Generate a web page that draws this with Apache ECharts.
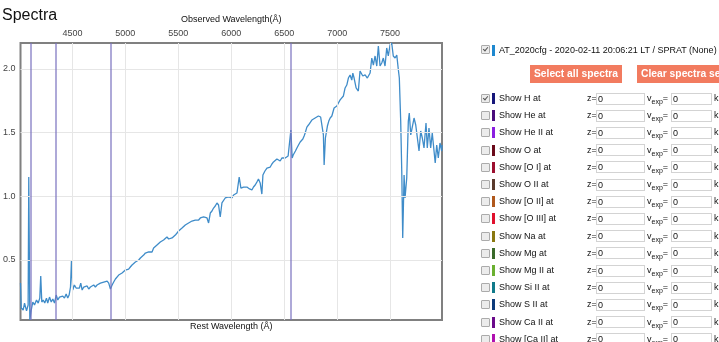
<!DOCTYPE html>
<html><head><meta charset="utf-8">
<script src="https://cdn.jsdelivr.net/npm/echarts@6/dist/echarts.min.js"></script>
<style>
html,body{margin:0;padding:0;background:#fff;overflow:hidden;}
#wrap{position:relative;width:719px;height:342px;font-family:"Liberation Sans",Arial,sans-serif;overflow:hidden;}
#chart{position:absolute;left:0;top:0;width:719px;height:342px;}
#panel{position:absolute;left:0;top:0;width:719px;height:342px;font-size:9px;color:#111;}
.cb{position:absolute;width:9px;height:9px;border:1px solid #ababab;background:#ececec;border-radius:1px;box-sizing:border-box;}
.cb.on::after{content:"";position:absolute;left:2px;top:0px;width:2px;height:4px;border:solid #555;border-width:0 1.5px 1.5px 0;transform:rotate(40deg);}
.sw{position:absolute;width:3px;height:11px;}
.tx{position:absolute;white-space:nowrap;line-height:11px;}
.inp{position:absolute;height:12px;border:1px solid #d3d3d3;box-sizing:border-box;background:#fff;line-height:10px;padding-left:1px;white-space:nowrap;}
.btn{position:absolute;height:18px;line-height:18px;background:#f27b5f;color:#fff;font-weight:bold;font-size:10.3px;white-space:nowrap;overflow:hidden;}
sub{font-size:7px;vertical-align:-3px;line-height:0;}
</style>
</head><body>
<div id="wrap"><div id="chart"></div><div id="panel"></div></div>
<script>
// ---- data ----
const waveObs = [4010,4017,4035,4048,4067,4082,4088,4098,4111,4126,4142,4161,4177,4192,4201,4211,4224,4239,4255,4267,4284,4300,4315,4331,4347,4362,4378,4394,4409,4425,4441,4456,4469,4482,4491,4503,4519,4535,4550,4566,4579,4592,4607,4623,4639,4654,4670,4686,4701,4717,4733,4748,4764,4780,4796,4812,4828,4843,4859,4875,4890,4906,4922,4937,4953,4969,4984,5000,5016,5031,5047,5063,5079,5095,5111,5126,5142,5158,5173,5189,5205,5220,5236,5252,5267,5283,5299,5314,5330,5346,5361,5377,5393,5409,5425,5441,5456,5472,5488,5503,5519,5535,5550,5566,5582,5597,5613,5629,5644,5660,5676,5692,5708,5724,5739,5755,5771,5786,5802,5818,5833,5849,5865,5880,5896,5912,5927,5943,5959,5974,5990,6006,6022,6038,6054,6066,6075,6091,6104,6116,6132,6148,6160,6173,6195,6210,6226,6242,6257,6273,6289,6299,6318,6337,6352,6368,6384,6399,6415,6431,6446,6462,6478,6493,6509,6525,6537,6550,6563,6575,6585,6594,6606,6620,6635,6651,6663,6676,6688,6698,6714,6729,6745,6761,6776,6792,6808,6823,6833,6844,6855,6870,6877,6889,6908,6921,6934,6950,6971,6997,7012,7028,7044,7059,7075,7091,7106,7122,7138,7148,7160,7179,7200,7216,7242,7264,7285,7311,7327,7342,7358,7374,7389,7405,7421,7436,7452,7468,7483,7499,7515,7530,7547,7563,7578,7587,7600,7610,7619,7632,7641,7657,7672,7681,7695,7710,7726,7742,7757,7773,7789,7804,7820,7839,7851,7867,7883,7898,7914,7926,7940,7955,7971,7987,7990];
const flux = [0.319,0.123,0.107,0.162,0.100,0.147,1.152,0.029,0.107,0.170,0.147,0.186,0.162,0.201,0.374,0.170,0.186,0.162,0.201,0.162,0.209,0.170,0.194,0.162,0.225,0.186,0.209,0.194,0.217,0.201,0.233,0.201,0.225,0.288,0.492,0.264,0.304,0.280,0.288,0.280,0.319,0.264,0.288,0.280,0.296,0.272,0.288,0.280,0.304,0.288,0.304,0.304,0.319,0.311,0.327,0.319,0.335,0.319,0.272,0.304,0.327,0.351,0.366,0.382,0.390,0.398,0.406,0.421,0.413,0.429,0.445,0.461,0.468,0.484,0.476,0.500,0.516,0.531,0.539,0.555,0.563,0.563,0.578,0.563,0.594,0.602,0.618,0.626,0.641,0.649,0.657,0.665,0.681,0.665,0.657,0.673,0.688,0.696,0.712,0.728,0.743,0.751,0.759,0.775,0.783,0.791,0.798,0.806,0.806,0.814,0.822,0.814,0.830,0.830,0.838,0.845,0.830,0.791,0.869,0.885,0.908,0.924,0.948,0.932,0.838,0.948,0.963,0.987,0.995,0.995,0.987,0.987,1.010,1.018,1.026,1.034,1.152,1.065,1.073,1.073,1.065,1.073,1.065,1.058,1.050,1.073,1.089,1.112,1.136,1.105,1.018,1.167,1.199,1.222,1.230,1.230,1.254,1.270,1.285,1.293,1.285,1.277,1.301,1.309,1.301,1.301,1.317,1.325,1.521,1.301,1.325,1.340,1.356,1.380,1.403,1.427,1.442,1.450,1.474,1.497,1.544,1.560,1.568,1.599,1.599,1.615,1.615,1.631,1.631,1.623,1.615,1.482,1.246,1.458,1.552,1.591,1.615,1.631,1.694,1.709,1.733,1.757,1.749,1.788,1.851,1.874,1.929,1.953,1.913,1.968,1.929,1.851,1.827,1.984,1.945,1.953,1.929,1.968,2.086,2.031,2.102,2.023,2.180,2.023,2.047,2.086,2.023,2.165,2.102,2.188,2.204,2.102,2.086,2.110,1.992,1.929,1.591,1.199,0.673,1.167,0.987,1.144,1.591,1.654,1.482,1.482,1.615,1.560,1.552,1.356,1.513,1.458,1.380,1.576,1.380,1.537,1.380,1.497,1.482,1.262,1.403,1.301,1.419,1.356,1.403];
const hLines = [4102, 4340, 4861, 6563];
const obsTicks = [4500, 5000, 5500, 6000, 6500, 7000, 7500];
const fluxTicks = [0.5, 1.0, 1.5, 2.0];
const waveRange = [4010, 7990];
const fluxRange = [0.029, 2.204];
const spectrumLabel = 'AT_2020cfg - 2020-02-11 20:06:21 LT / SPRAT (None)';
const ions = ['H','He','He II','O','[O I]','O II','[O II]','[O III]','Na','Mg','Mg II','Si II','S II','Ca II','[Ca II]'];
const ionColors = ['#16167a','#4a0c7c','#8a1ee0','#6a0a1a','#9c0e2e','#5a3a2c','#b0581c','#e0102c','#8a7810','#3a6a2a','#6ab030','#107a8a','#0c3a7a','#6a0a8a','#b010b0'];
const ionChecked = [true,false,false,false,false,false,false,false,false,false,false,false,false,false,false];

// ---- chart ----
const FONT = '"Liberation Sans", Arial, sans-serif';
const chart = echarts.init(document.getElementById('chart'), null, {renderer:'canvas'});
const specData = waveObs.map((w, i) => [w, flux[i]]);
chart.setOption({
  animation: false,
  title: {text: 'Spectra', left: -3, top: 3, textStyle: {fontSize: 16, fontWeight: 'normal', color: '#111', fontFamily: FONT}},
  grid: {left: 20, top: 43, width: 422, height: 277, show: true, borderColor: '#808080', borderWidth: 2, backgroundColor: 'transparent'},
  xAxis: [
    {type: 'value', position: 'top', min: waveRange[0], max: waveRange[1],
     name: 'Observed Wavelength(Å)', nameLocation: 'middle', nameGap: 16,
     nameTextStyle: {fontSize: 9, color: '#111', fontFamily: FONT},
     axisLine: {show: false}, axisTick: {show: false}, splitLine: {show: false},
     axisLabel: {customValues: obsTicks, fontSize: 9, color: '#444', margin: 5, fontFamily: FONT,
       formatter: v => String(v)}},
    {type: 'value', position: 'bottom', min: waveRange[0], max: waveRange[1],
     name: 'Rest Wavelength (Å)', nameLocation: 'middle', nameGap: 2,
     nameTextStyle: {fontSize: 9, color: '#111', fontFamily: FONT, verticalAlign: 'top'},
     axisLine: {show: false}, axisTick: {show: false}, splitLine: {show: false}, axisLabel: {show: false}}
  ],
  yAxis: {type: 'value', min: fluxRange[0], max: fluxRange[1],
    axisLine: {show: false}, axisTick: {show: false}, splitLine: {show: false},
    axisLabel: {customValues: fluxTicks, fontSize: 9, color: '#444', margin: 5, fontFamily: FONT,
      formatter: v => v.toFixed(1)}},
  series: [
    {type: 'line', name: 'grid', xAxisIndex: 0, data: [], silent: true, z: 1,
     markLine: {silent: true, symbol: 'none', label: {show: false}, animation: false,
       lineStyle: {color: '#e6e6e6', width: 1, type: 'solid'},
       data: obsTicks.map(v => ({xAxis: v})).concat(fluxTicks.map(v => ({yAxis: v})))}},
    {type: 'line', name: 'H', xAxisIndex: 0, data: [], silent: true, z: 2,
     markLine: {silent: true, symbol: 'none', label: {show: false}, animation: false,
       lineStyle: {color: 'rgba(120,112,190,0.6)', width: 2, type: 'solid'},
       data: hLines.map(v => ({xAxis: v}))}},
    {type: 'line', name: 'spectrum', xAxisIndex: 0, data: specData, showSymbol: false, z: 3,
     lineStyle: {color: '#3f8cc9', width: 1.3}, itemStyle: {color: '#3f8cc9'}}
  ]
});

// ---- side panel ----
const panel = document.getElementById('panel');
function add(cls, style, html) {
  const d = document.createElement('div');
  d.className = cls; d.style.cssText = style; if (html !== undefined) d.innerHTML = html;
  panel.appendChild(d); return d;
}
add('cb on', 'left:481px;top:45px;');
add('sw', 'left:492px;top:45px;background:#1e88cf;');
add('tx', 'left:499px;top:45px;', spectrumLabel);
add('btn', 'left:530px;top:65px;width:92px;text-align:center;', 'Select all spectra');
add('btn', 'left:637px;top:65px;width:110px;padding-left:4px;', 'Clear spectra selection');
ions.forEach((ion, i) => {
  const cy = 98.5 + i * 17.2;
  const t = Math.round(cy - 5.5);
  add('cb' + (ionChecked[i] ? ' on' : ''), 'left:481px;top:' + Math.round(cy - 4.5) + 'px;');
  add('sw', 'left:492px;top:' + Math.round(cy - 5.5) + 'px;background:' + ionColors[i] + ';');
  add('tx', 'left:499px;top:' + t + 'px;', 'Show ' + ion + ' at');
  add('tx', 'left:587px;top:' + t + 'px;', 'z=');
  add('inp', 'left:596px;top:' + Math.round(cy - 6) + 'px;width:49px;', '0');
  add('tx', 'left:647px;top:' + t + 'px;', 'v<sub>exp</sub>=');
  add('inp', 'left:671px;top:' + Math.round(cy - 6) + 'px;width:41px;', '0');
  add('tx', 'left:714px;top:' + t + 'px;', 'km/s');
});
</script>
</body></html>
